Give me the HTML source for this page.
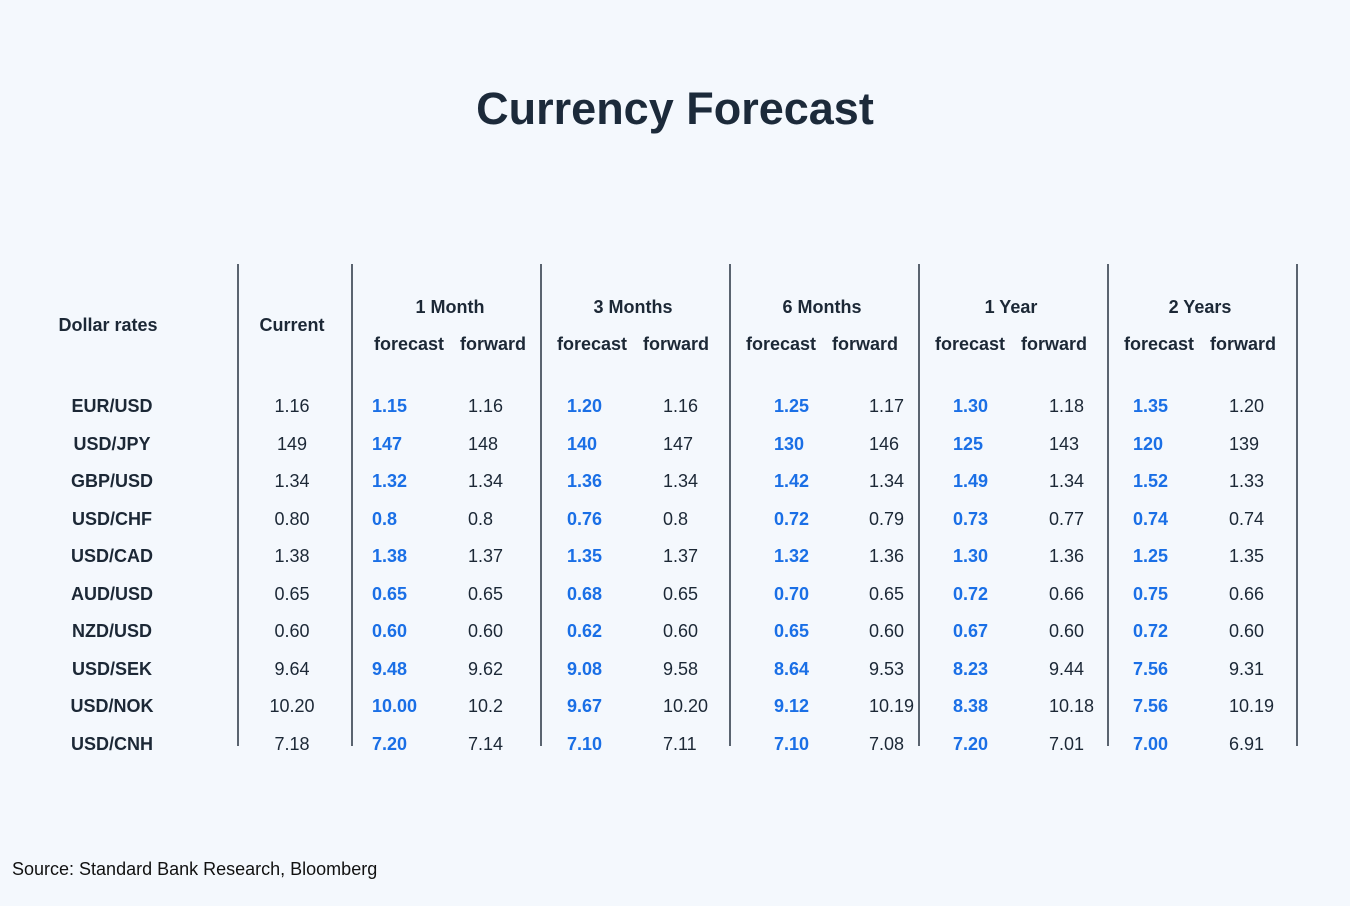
<!DOCTYPE html>
<html><head><meta charset="utf-8"><style>
html,body{margin:0;padding:0;}
body{width:1350px;height:906px;background:#f4f8fd;position:relative;overflow:hidden;font-family:"Liberation Sans",sans-serif;color:#1c2836;}
.t{position:absolute;white-space:nowrap;line-height:1;}
.h{font-weight:bold;font-size:18px;}
.v{font-size:18px;}
.b{font-weight:bold;font-size:18px;color:#1a6fe6;}
.ln{position:absolute;top:264px;height:482px;width:2px;background:#5a6470;}
</style></head><body>
<div class="t" style="left:0;width:1350px;text-align:center;top:86px;font-size:45px;font-weight:bold;color:#1c2a3a;">Currency Forecast</div>
<div class="ln" style="left:237px"></div>
<div class="ln" style="left:351px"></div>
<div class="ln" style="left:540px"></div>
<div class="ln" style="left:729px"></div>
<div class="ln" style="left:918px"></div>
<div class="ln" style="left:1107px"></div>
<div class="ln" style="left:1296px"></div>
<div class="t h" style="left:8px;width:200px;text-align:center;top:316px">Dollar rates</div>
<div class="t h" style="left:242px;width:100px;text-align:center;top:316px">Current</div>
<div id="c"></div>
<div class="t" style="left:12px;top:860px;font-size:18px;color:#111;">Source: Standard Bank Research, Bloomberg</div>
<script>
var g=[["1 Month",352,20,116],["3 Months",541,26,122],["6 Months",730,44,139],["1 Year",919,34,130],["2 Years",1108,25,121]];
var hdrF=[374,557,746,935,1124],hdrW=[460,643,832,1021,1210];
var rows=[
["EUR/USD","1.16","1.15","1.16","1.20","1.16","1.25","1.17","1.30","1.18","1.35","1.20"],
["USD/JPY","149","147","148","140","147","130","146","125","143","120","139"],
["GBP/USD","1.34","1.32","1.34","1.36","1.34","1.42","1.34","1.49","1.34","1.52","1.33"],
["USD/CHF","0.80","0.8","0.8","0.76","0.8","0.72","0.79","0.73","0.77","0.74","0.74"],
["USD/CAD","1.38","1.38","1.37","1.35","1.37","1.32","1.36","1.30","1.36","1.25","1.35"],
["AUD/USD","0.65","0.65","0.65","0.68","0.65","0.70","0.65","0.72","0.66","0.75","0.66"],
["NZD/USD","0.60","0.60","0.60","0.62","0.60","0.65","0.60","0.67","0.60","0.72","0.60"],
["USD/SEK","9.64","9.48","9.62","9.08","9.58","8.64","9.53","8.23","9.44","7.56","9.31"],
["USD/NOK","10.20","10.00","10.2","9.67","10.20","9.12","10.19","8.38","10.18","7.56","10.19"],
["USD/CNH","7.18","7.20","7.14","7.10","7.11","7.10","7.08","7.20","7.01","7.00","6.91"]];
var h="";
g.forEach(function(x,i){
 var c=(hdrF[i]+hdrW[i]+70)/2-2;
 h+='<div class="t h" style="left:'+(c-100)+'px;width:200px;text-align:center;top:298px">'+x[0]+'</div>';
 h+='<div class="t h" style="left:'+hdrF[i]+'px;top:335px">forecast</div>';
 h+='<div class="t h" style="left:'+hdrW[i]+'px;top:335px">forward</div>';
});
rows.forEach(function(r,j){
 var y=397+j*37.5;
 h+='<div class="t h" style="left:12px;width:200px;text-align:center;top:'+y+'px">'+r[0]+'</div>';
 h+='<div class="t v" style="left:242px;width:100px;text-align:center;top:'+y+'px">'+r[1]+'</div>';
 g.forEach(function(x,i){
  h+='<div class="t b" style="left:'+(x[1]+x[2])+'px;top:'+y+'px">'+r[2+i*2]+'</div>';
  h+='<div class="t v" style="left:'+(x[1]+x[3])+'px;top:'+y+'px">'+r[3+i*2]+'</div>';
 });
});
document.getElementById("c").innerHTML=h;
</script>
</body></html>
